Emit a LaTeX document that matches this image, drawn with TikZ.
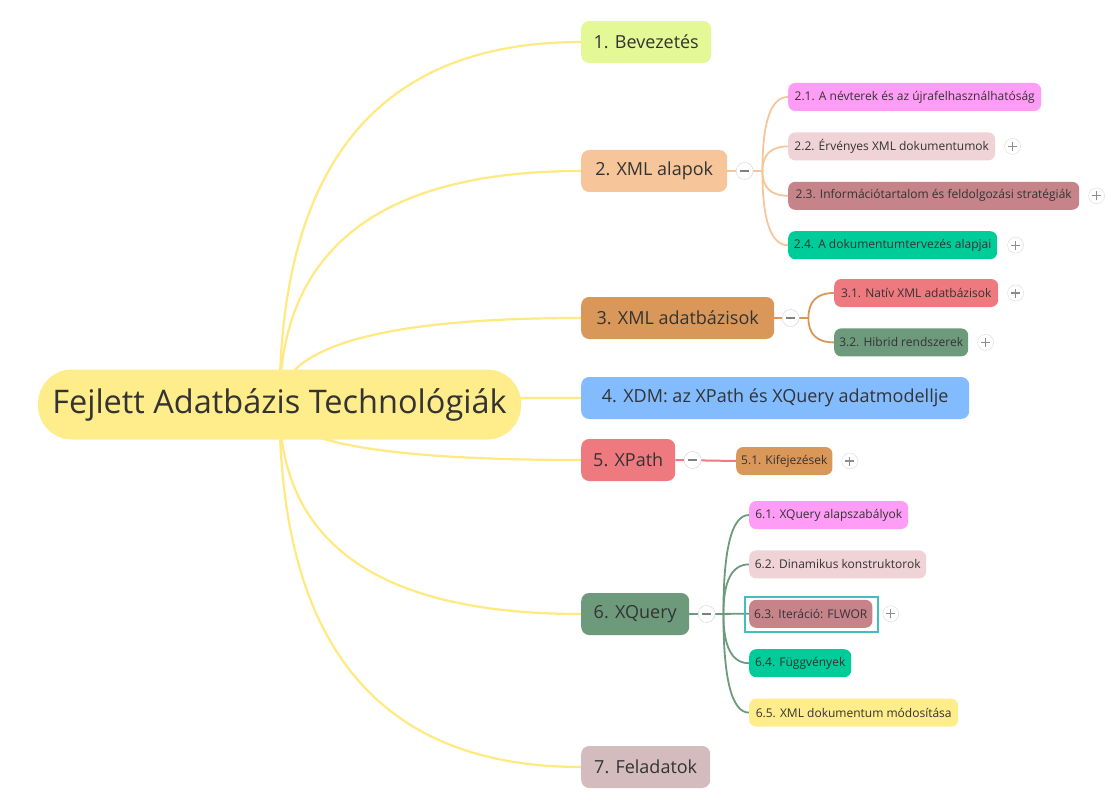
\documentclass[tikz,border=0pt]{standalone}
\usepackage{fontspec}
\setmainfont{Open Sans}
\usetikzlibrary{positioning,calc,backgrounds}

\definecolor{rootc}{RGB}{255,236,139}
\definecolor{linec}{RGB}{255,233,128}
\definecolor{limec}{RGB}{228,248,150}
\definecolor{peachc}{RGB}{247,197,154}
\definecolor{orangec}{RGB}{217,152,90}
\definecolor{bluec}{RGB}{130,188,255}
\definecolor{redc}{RGB}{238,122,128}
\definecolor{greenc}{RGB}{110,154,124}
\definecolor{mauvec}{RGB}{212,188,190}
\definecolor{pinkc}{RGB}{255,156,245}
\definecolor{rosec}{RGB}{240,211,215}
\definecolor{dustyc}{RGB}{198,131,138}
\definecolor{tealc}{RGB}{0,204,153}
\definecolor{textc}{RGB}{51,51,51}
\definecolor{selc}{RGB}{64,190,192}

\begin{document}
\begin{tikzpicture}[x=1pt,y=-1pt]
                        \tikzset{RootBox/.style={%
                                shape=rectangle,%
                                fill=rootc,%
                                text=textc,%
                                rounded corners=34pt,%
                                minimum height=70pt,%
                                minimum width=483pt,%
                                font=\fontsize{32.5}{38}\selectfont,%
                            },
                            Topic/.style={%
                                shape=rectangle,%
                                text=textc,%
                                rounded corners=8pt,%
                                minimum height=42pt,%
                                inner xsep=10pt,%
                                anchor=west,%
                                font=\fontsize{18}{21}\selectfont,%
                            },
                            SubTopic/.style={%
                                shape=rectangle,%
                                text=textc,%
                                rounded corners=7pt,%
                                minimum height=28pt,%
                                inner xsep=5pt,%
                                anchor=west,%
                                font=\fontsize{12}{14}\selectfont,%
                            },
                            MinusBtn/.style={%
                                shape=circle,%
                                draw=black!18,%
                                fill=white,%
                                minimum size=17pt,%
                                inner sep=0pt,%
                                path picture={\draw[black!50,line width=1.3pt]
                                    ([xshift=-4.5pt]path picture bounding box.center) --
                                    ([xshift=4.5pt]path picture bounding box.center);},%
                            },
                            PlusBtn/.style={%
                                shape=circle,%
                                draw=black!15,%
                                fill=white,%
                                minimum size=16pt,%
                                inner sep=0pt,%
                                path picture={\draw[black!45,line width=1.2pt]
                                    ([xshift=-4.5pt]path picture bounding box.center) --
                                    ([xshift=4.5pt]path picture bounding box.center)
                                    ([yshift=-4.5pt]path picture bounding box.center) --
                                    ([yshift=4.5pt]path picture bounding box.center);},%
                            },
                            Branch/.style={%
                                line width=#1,%
                                to path={.. controls ($(\tikztostart)!0.667!(\tikztostart |- \tikztotarget)$)
                                    and ($(\tikztotarget)!0.667!(\tikztostart |- \tikztotarget)$) .. (\tikztotarget)},%
                            },
                            Branch/.default=2pt,%
                            }

                            \useasboundingbox (0,0) rectangle (1115,810);

                            \node[RootBox] (root) at (279.5,404.5) {Fejlett Adatbázis Technológiák};

                            % main topics
                            \node[Topic, fill=limec, minimum width=130pt] (n1) at (581,42) {1. Bevezetés};
                            \node[Topic, fill=peachc, minimum width=146pt] (n2) at (581,171) {2. XML alapok};
                            \node[Topic, fill=orangec, minimum width=193pt] (n3) at (581,318) {3. XML adatbázisok};
                            \node[Topic, fill=bluec, minimum width=388pt] (n4) at (581,398) {4. XDM: az XPath és XQuery adatmodellje};
                            \node[Topic, fill=redc, minimum width=94pt] (n5) at (581,460) {5. XPath};
                            \node[Topic, fill=greenc, minimum width=108pt] (n6) at (581,614) {6. XQuery};
                            \node[Topic, fill=mauvec, minimum width=129pt] (n7) at (581,767) {7. Feladatok};

                            % junctions
                            \coordinate (j2) at ($(n2.east)+(35,0)$);
                            \coordinate (j3) at ($(n3.east)+(34,0)$);
                            \coordinate (j6) at ($(n6.east)+(34,0)$);

                            % subtopics
                            \node[SubTopic, fill=pinkc, minimum width=253pt] (n21) at (788,97) {2.1. A névterek és az újrafelhasználhatóság};
                            \node[SubTopic, fill=rosec, minimum width=207pt, below=21pt of n21.south west, anchor=north west] (n22) {2.2. Érvényes XML dokumentumok};
                            \node[SubTopic, fill=dustyc, minimum width=291pt, below=21pt of n22.south west, anchor=north west] (n23) {2.3. Információtartalom és feldolgozási stratégiák};
                            \node[SubTopic, fill=tealc, minimum width=209pt, below=21pt of n23.south west, anchor=north west] (n24) {2.4. A dokumentumtervezés alapjai};

                            \node[SubTopic, fill=redc, minimum width=164pt] (n31) at (834,293) {3.1. Natív XML adatbázisok};
                            \node[SubTopic, fill=greenc, minimum width=134pt, below=21pt of n31.south west, anchor=north west] (n32) {3.2. Hibrid rendszerek};

                            \node[SubTopic, fill=orangec, minimum width=95pt] (n51) at (736,461) {5.1. Kifejezések};

                            \node[SubTopic, fill=pinkc, minimum width=159pt] (n61) at (749,515) {6.1. XQuery alapszabályok};
                            \node[SubTopic, fill=rosec, minimum width=177pt, below=21pt of n61.south west, anchor=north west] (n62) {6.2. Dinamikus konstruktorok};
                            \node[SubTopic, fill=dustyc, minimum width=123pt, below=21pt of n62.south west, anchor=north west] (n63) {6.3. Iteráció: FLWOR};
                            \node[SubTopic, fill=tealc, minimum width=102pt, below=21pt of n63.south west, anchor=north west] (n64) {6.4. Függvények};
                            \node[SubTopic, fill=rootc, minimum width=209pt, below=21pt of n64.south west, anchor=north west] (n65) {6.5. XML dokumentum módosítása};

                            \draw[selc, line width=2pt] ([shift={(-4pt,3pt)}]n63.north west) rectangle ([shift={(5pt,-4pt)}]n63.south east);

                            % connectors
                            \begin{scope}[on background layer]
                            \fill[white] (0,0) rectangle (1115,810);
                            \foreach \t in {n1,n2,n3,n4,n5,n6,n7}
                                \path (root.center) edge[Branch=2.2pt, draw=linec] (\t.west);
                            \path (n2.east) edge[line width=2pt, draw=peachc] (j2);
                            \foreach \t in {n21,n22,n23,n24}
                                \path (j2) edge[Branch=1.8pt, draw=peachc] (\t.west);
                            \path (n3.east) edge[line width=2pt, draw=orangec] (j3);
                            \foreach \t in {n31,n32}
                                \path (j3) edge[Branch=1.8pt, draw=orangec] (\t.west);
                            \path (n5.east) edge[line width=2pt, draw=redc] (n51.west);
                            \path (n6.east) edge[line width=2.4pt, draw=greenc] (j6);
                            \foreach \t in {n61,n62,n63,n64,n65}
                                \path (j6) edge[Branch=1.8pt, draw=greenc] (\t.west);
                            \end{scope}

                            % collapse and expand buttons
                            \node[MinusBtn, right=8.5pt of n2] (m2) {};
                            \node[MinusBtn, right=7.5pt of n3] (m3) {};
                            \node[MinusBtn, right=8.5pt of n5] (m5) {};
                            \node[MinusBtn, right=8.5pt of n6] (m6) {};
                            \node[PlusBtn, right=9pt of n22] (p22) {};
                            \node[PlusBtn, right=9pt of n23] (p23) {};
                            \node[PlusBtn, right=10pt of n24] (p24) {};
                            \node[PlusBtn, right=9pt of n31] (p31) {};
                            \node[PlusBtn, right=9pt of n32] (p32) {};
                            \node[PlusBtn, right=9pt of n51] (p51) {};
                            \node[PlusBtn, right=10pt of n63] (p63) {};
\end{tikzpicture}
\end{document}
